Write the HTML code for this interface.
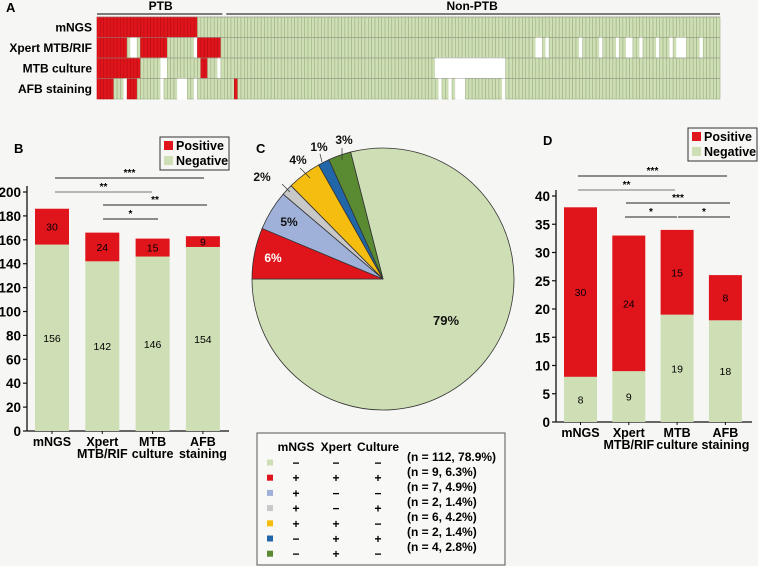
<!DOCTYPE html>
<html><head><meta charset="utf-8"><style>
body{margin:0;background:#f6f6f4;}
svg{display:block;font-family:"Liberation Sans",Arial,sans-serif;}
.b{font-weight:bold;}
</style></head><body>
<svg id="s" width="758" height="566" viewBox="0 0 758 566"></svg>
<script>
// ---------- Panel A data ----------
const rowNames=["mNGS","Xpert MTB/RIF","MTB culture","AFB staining"];
const nCols=186, nPTB=38;
const posCols=[
 [...Array(30).keys()],
 [0,1,2,3,4,5,6,7,8,13,14,15,16,17,18,19,20,30,31,32,33,34,35,36],
 [0,1,2,3,4,5,6,7,8,9,10,11,12,31,32],
 [0,1,2,3,4,9,10,11,41]
];
const missCols=[
 [],
 [10,11,29,131,132,134,144,150,155,158,159,162,167,171,173,174,175,180],
 [19,20,36,101,102,103,104,105,106,107,108,109,110,111,112,113,114,115,116,117,118,119,120,121],
 [8,19,24,25,26,29,102,105,107,108,109,121]
];
// ---------- Panel B data ----------
const catsB=["mNGS","Xpert|MTB/RIF","MTB|culture","AFB|staining"];
const negB=[156,142,146,154];
const posB=[30,24,15,9];
const ticksB=[0,20,40,60,80,100,120,140,160,180,200];
// ---------- Panel C data ----------
const pieVals=[78.9,6.3,4.9,1.4,4.2,1.4,2.8];
const pieLabels=["79%","6%","5%","2%","4%","1%","3%"];
const pieColors=["#cfdfb5","#e0141b","#9fb1d8","#c8c8c8","#f5bd0f","#2266aa","#5a8a32"];
const tblSigns=[["−","−","−"],["+","+","+"],["+","−","−"],["+","−","+"],["+","+","−"],["−","+","+"],["−","+","−"]];
const tblN=["(n = 112, 78.9%)","(n = 9, 6.3%)","(n = 7, 4.9%)","(n = 2, 1.4%)","(n = 6, 4.2%)","(n = 2, 1.4%)","(n = 4, 2.8%)"];
// ---------- Panel D data ----------
const negD=[8,9,19,18];
const posD=[30,24,15,8];
const ticksD=[0,5,10,15,20,25,30,35,40];

const S=document.getElementById('s');
const NS="http://www.w3.org/2000/svg";
function mk(tag,at,txt){const e=document.createElementNS(NS,tag);for(const k in at)e.setAttribute(k,at[k]);if(txt!==undefined)e.textContent=txt;S.appendChild(e);return e;}
const RED="#e0141b",GRN="#cfdfb5";

// ---- Panel A ----
let t=mk('text',{x:6,y:12,'font-size':13,class:'b'},'A');

const ax0=97,ax1=720,cw=(ax1-ax0)/nCols,ry0=17,rh=20.5;
rowNames.forEach((n,r)=>{
 const l=mk('text',{x:92,y:ry0+r*rh+14.5,'text-anchor':'end','font-size':12,class:'b'},n);
 
 for(let c=0;c<nCols;c++){
  let f=GRN;
  if(posCols[r].includes(c))f=RED;else if(missCols[r].includes(c))f="#ffffff";
  const e=mk('rect',{x:ax0+c*cw,y:ry0+r*rh,width:cw,height:rh,fill:f,stroke:f==="#ffffff"?"#ffffff":(f===RED?"#b80e14":"#9db083"),'stroke-width':0.6});
  
 }
 mk('line',{x1:ax0,y1:ry0+r*rh,x2:ax1,y2:ry0+r*rh,stroke:'#9a9a94','stroke-width':0.6});
});
const pEnd=ax0+nPTB*cw;
mk('line',{x1:ax0,y1:14,x2:pEnd-2,y2:14,stroke:'#333','stroke-width':1.2});
mk('line',{x1:pEnd+2,y1:14,x2:ax1,y2:14,stroke:'#333','stroke-width':1.2});
t=mk('text',{x:(ax0+pEnd)/2,y:10,'text-anchor':'middle','font-size':12,class:'b'},'PTB');

t=mk('text',{x:(pEnd+ax1)/2,y:10,'text-anchor':'middle','font-size':12,class:'b'},'Non-PTB');


// ---- Bar chart helper ----
function barPanel(o){
 const yS=v=>o.y0-(v/o.max)*(o.y0-o.yTop);
 mk('line',{x1:o.axX,y1:o.y0,x2:o.axX,y2:yS(o.max)-6,stroke:'#111','stroke-width':1.3});
 mk('line',{x1:o.axX,y1:o.y0,x2:o.xEnd,y2:o.y0,stroke:'#111','stroke-width':1.3});
 o.ticks.forEach(v=>{
  mk('line',{x1:o.axX-4,y1:yS(v),x2:o.axX,y2:yS(v),stroke:'#111','stroke-width':1.2});
  const e=mk('text',{x:o.axX-6,y:yS(v)+5,'text-anchor':'end','font-size':13.5,class:'b'},v);
  
 });
 o.neg.forEach((n,i)=>{
  const x=o.bx0+i*o.step, p=o.pos[i];
  let e=mk('rect',{x:x,y:yS(n),width:o.bw,height:o.y0-yS(n),fill:GRN});
  
  e=mk('rect',{x:x,y:yS(n+p),width:o.bw,height:yS(n)-yS(n+p),fill:RED});
  
  mk('text',{x:x+o.bw/2,y:(yS(n)+o.y0)/2+(o.negOff||0)+4,'text-anchor':'middle','font-size':10.5},n);
  mk('text',{x:x+o.bw/2,y:(yS(n)+yS(n+p))/2+4,'text-anchor':'middle','font-size':10.5},p);
  mk('line',{x1:x+o.bw/2,y1:o.y0,x2:x+o.bw/2,y2:o.y0+3,stroke:'#111'});
  const parts=catsB[i].split('|');
  parts.forEach((pt,k)=>{const e=mk('text',{x:x+o.bw/2,y:o.y0+15+k*12,'text-anchor':'middle','font-size':12.5,class:'b'},pt);
   });
 });
 const L=o.leg;
 let e=mk('rect',{x:L[0],y:L[1],width:L[2],height:33,fill:'none',stroke:'#333','stroke-width':1});
 
 mk('rect',{x:L[0]+4,y:L[1]+4,width:9,height:9,fill:RED});
 mk('rect',{x:L[0]+4,y:L[1]+19,width:9,height:9,fill:GRN});
 e=mk('text',{x:L[0]+16,y:L[1]+13,'font-size':12.5,class:'b'},'Positive');
 e=mk('text',{x:L[0]+16,y:L[1]+28,'font-size':12.5,class:'b'},'Negative');
 o.sig.forEach(s=>{
  mk('line',{x1:s[0],y1:s[2],x2:s[1],y2:s[2],stroke:s[4]||'#222','stroke-width':1});
  const e=mk('text',{x:(s[0]+s[1])/2,y:s[2]-2,'text-anchor':'middle','font-size':10,class:'b'},s[3]);
  
 });
 e=mk('text',{x:o.lab[0],y:o.lab[1],'font-size':13,class:'b'},o.name);
 
}
barPanel({axX:27,y0:431,yTop:192,max:200,xEnd:229,bx0:35,step:50.3,bw:34,neg:negB,pos:posB,ticks:ticksB,
 leg:[160,137,69],lab:[14,153],name:'B',
 sig:[[55,204,178,'***'],[55,152,192,'**','#777'],[103,207,205,'**'],[103,158,219,'*']]});
barPanel({axX:556,y0:422,yTop:196,max:40,xEnd:752,bx0:564,step:48.3,bw:33,neg:negD,pos:posD,ticks:ticksD,
 leg:[688,128,69],lab:[543,145],name:'D',
 sig:[[578,727,176,'***'],[578,675,190,'**','#777'],[626,730,203,'***'],[625,677,217,'*'],[678,730,217,'*']]});

// ---- Panel C pie ----
const cx=383,cy=279,R=131;
t=mk('text',{x:256,y:153,'font-size':13,class:'b'},'C');

const tot=pieVals.reduce((a,b)=>a+b,0);
const pt=a=>[cx+R*Math.cos(a*Math.PI/180),cy-R*Math.sin(a*Math.PI/180)];
let a0=180;
{const sp=pieVals[0]/tot*360, a1=180+sp;const p0=pt(180),p1=pt(a1);
 const e=mk('path',{d:`M${cx},${cy}L${p0[0]},${p0[1]}A${R},${R} 0 1 0 ${p1[0]},${p1[1]}Z`,fill:pieColors[0],stroke:'#333','stroke-width':0.8});
 }
for(let i=1;i<pieVals.length;i++){
 const sp=pieVals[i]/tot*360,a1=a0-sp;const p0=pt(a0),p1=pt(a1);
 const e=mk('path',{d:`M${cx},${cy}L${p0[0]},${p0[1]}A${R},${R} 0 0 1 ${p1[0]},${p1[1]}Z`,fill:pieColors[i],stroke:'#333','stroke-width':0.8});
 
 a0=a1;
}
const lp=[[446,325,'#111'],[273,262,'#fff'],[289,226,'#111'],[262,181,'#111'],[298,164,'#111'],[319,151,'#111'],[344,144,'#111']];
pieLabels.forEach((l,i)=>{const e=mk('text',{x:lp[i][0],y:lp[i][1],'text-anchor':'middle','font-size':i===0?13:12,class:'b',fill:lp[i][2]},l);
 });
mk('line',{x1:282,y1:184,x2:290,y2:192,stroke:'#333','stroke-width':0.7});
mk('line',{x1:300,y1:168,x2:310,y2:178,stroke:'#333','stroke-width':0.7});
mk('line',{x1:320,y1:154,x2:322,y2:162,stroke:'#333','stroke-width':0.7});
mk('line',{x1:342,y1:148,x2:342,y2:160,stroke:'#333','stroke-width':0.7});

// ---- Table legend ----
t=mk('rect',{x:257,y:433,width:248,height:132,fill:'#f8f8f6',stroke:'#555','stroke-width':1});

[['mNGS',296],['Xpert',336],['Culture',378]].forEach(h=>{mk('text',{x:h[1],y:451,'text-anchor':'middle','font-size':12,class:'b'},h[0]);});
tblSigns.forEach((r,i)=>{
 const y=463+i*15.2;
 const e=mk('rect',{x:267,y:y-3.5,width:6,height:6,fill:pieColors[i]});
 
 [296,336,378].forEach((x,k)=>mk('text',{x:x,y:y+4,'text-anchor':'middle','font-size':12,class:'b'},r[k]));
 mk('text',{x:407,y:461+i*15,'font-size':12,class:'b'},tblN[i]);
});
</script>
</body></html>
